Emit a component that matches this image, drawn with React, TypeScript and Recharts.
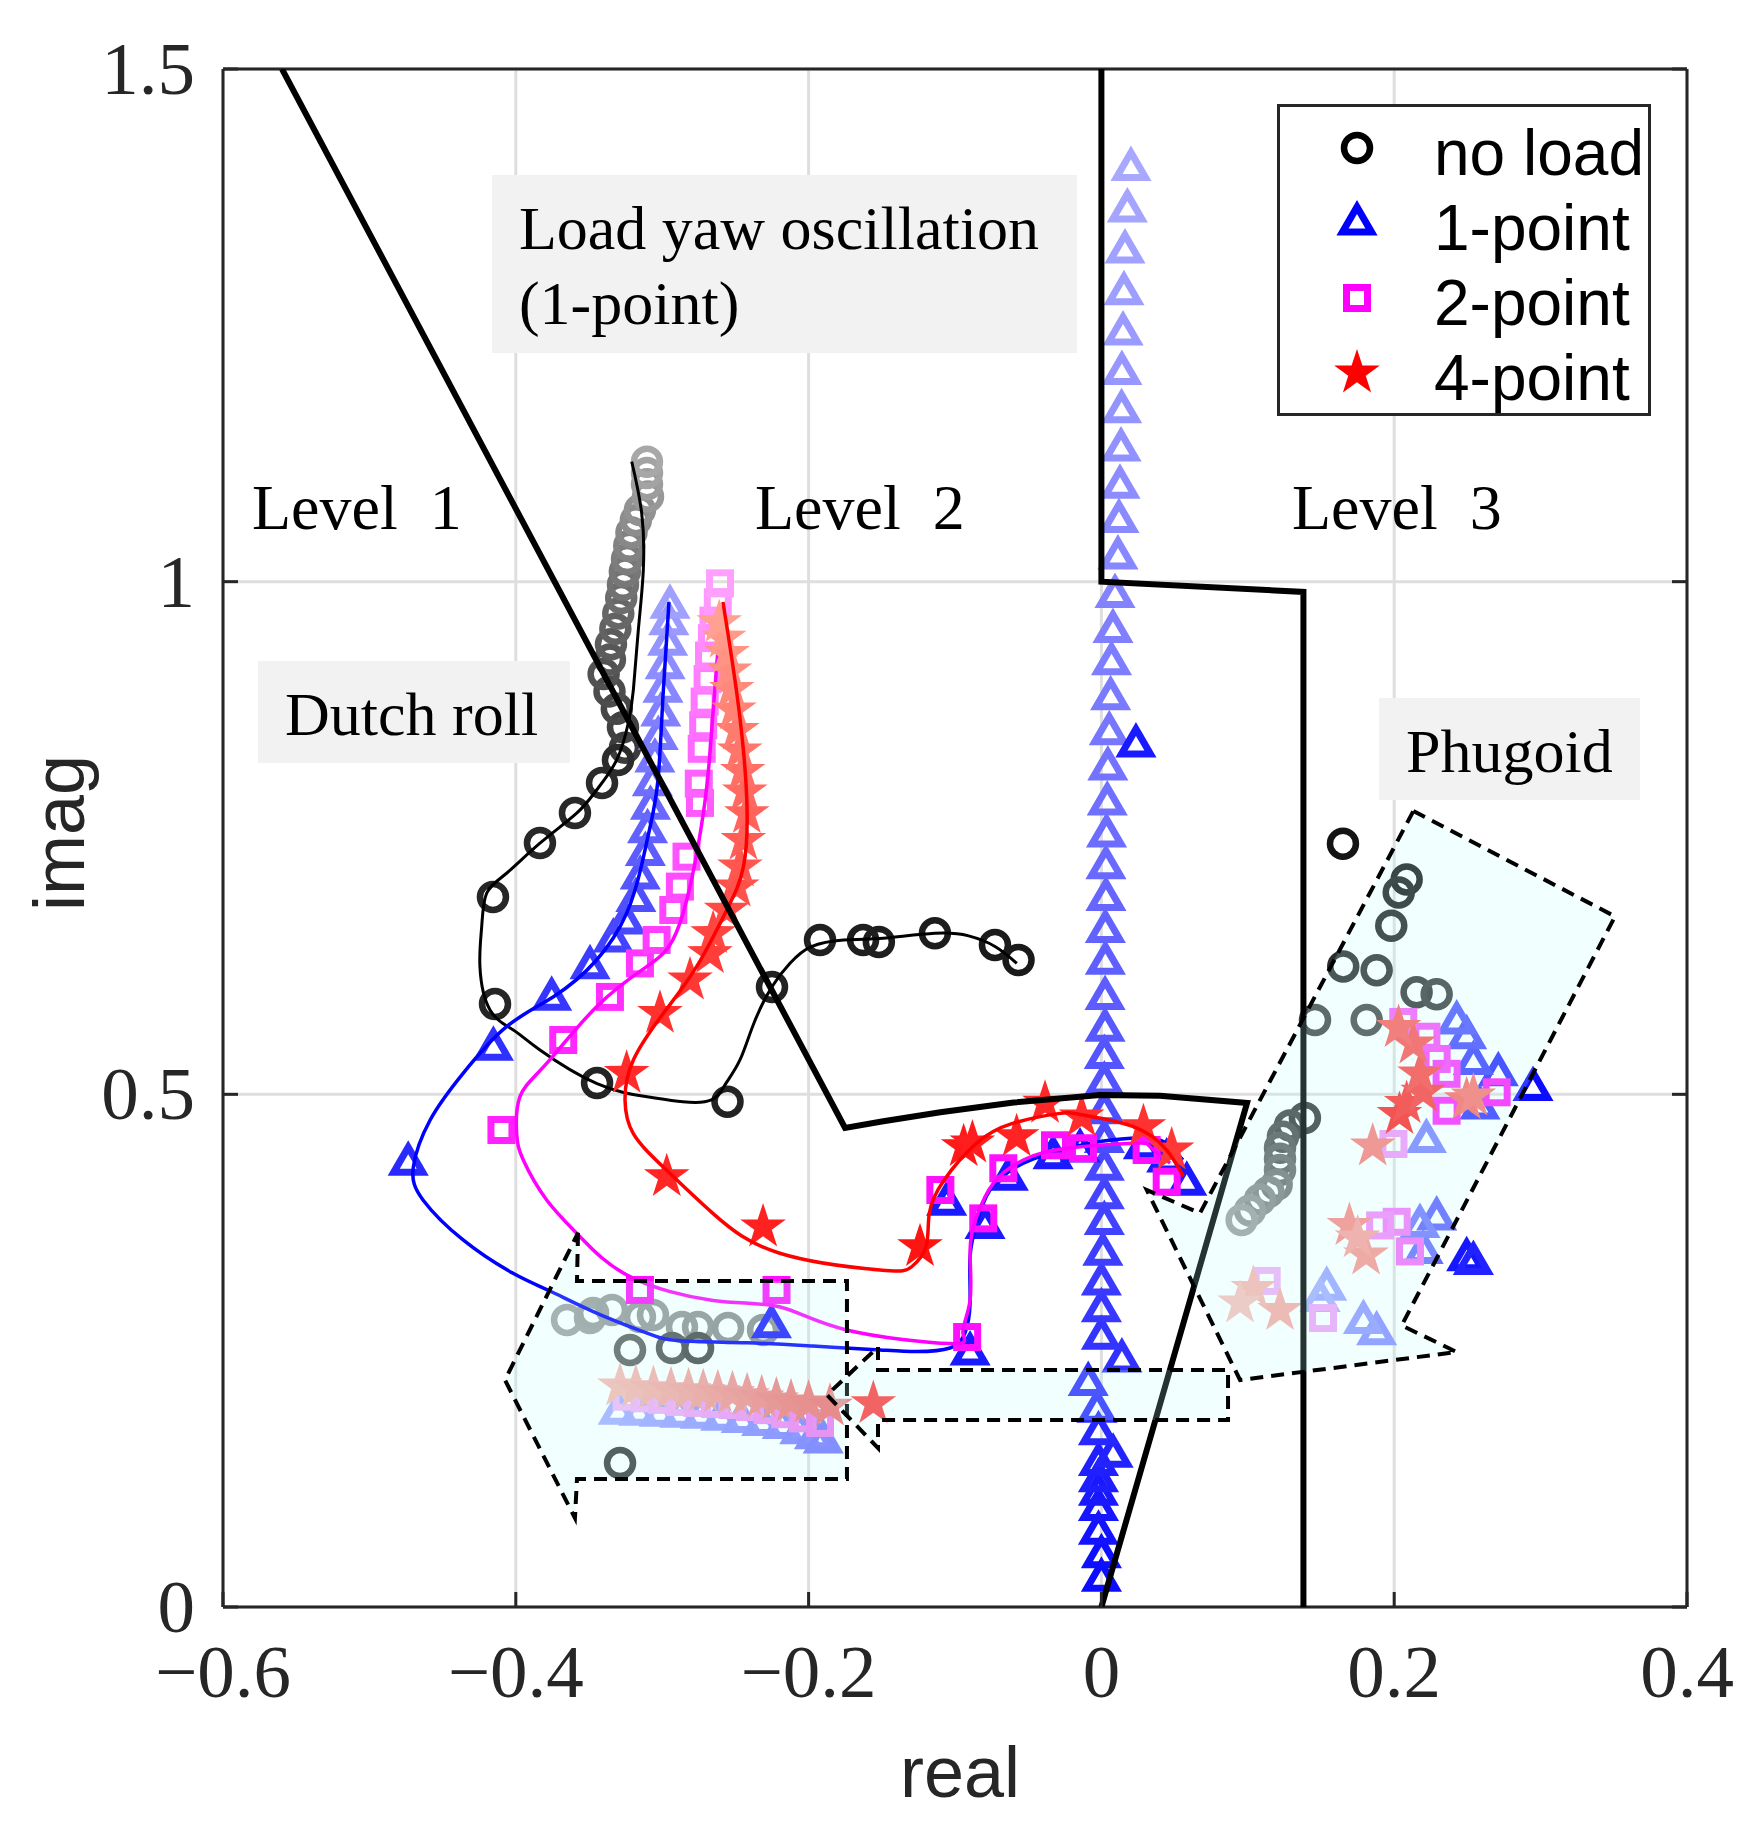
import React from "react";
import {
  ScatterChart,
  Scatter,
  XAxis,
  YAxis,
  CartesianGrid,
  ReferenceArea,
  ReferenceDot,
  Legend,
} from "recharts";

type Pt = [number, number];
type Kind = "circle" | "triangle" | "square" | "star";

const W = 1763;
const H = 1833;

// axes
const xTicks = [-0.6, -0.4, -0.2, 0, 0.2, 0.4];
const yTicks = [0, 0.5, 1, 1.5];
const seriesNames = ["no load", "1-point", "2-point", "4-point"];

// annotations (data coords)
const levelLabels = ["Level  1", "Level  2", "Level  3"];
const levelAnchors: Pt[] = [[-0.5802, 1.0514], [-0.2366, 1.0514], [0.1302, 1.0514]];
const noteLines = [["Load yaw oscillation", "(1-point)"], ["Dutch roll"], ["Phugoid"]];
const noteBoxes: [number, number, number, number][] = [
  [-0.4163, -0.0167, 1.2231, 1.3967],
  [-0.5761, -0.363, 0.8232, 0.9227],
  [0.1896, 0.3679, 0.7871, 0.8866],
];

// handling quality boundaries
const level12Boundary: Pt[] = [[-0.5597, 1.5], [-0.1751, 0.4672], [-0.15, 0.4735], [-0.11, 0.4825], [-0.06, 0.492], [-0.001, 0.4994], [0.04, 0.4985], [0.0995, 0.4916], [0, 0]];
const level23Boundary: Pt[] = [[0, 1.5], [0, 1.0], [0.138, 0.99], [0.138, 0]];

// dashed regions
const regionA: Pt[] = [[-0.3575, 0.3648], [-0.3582, 0.318], [-0.1738, 0.318], [-0.1738, 0.1248], [-0.3582, 0.1248], [-0.3596, 0.0868], [-0.4074, 0.2214]];
const regionB: Pt[] = [[-0.1526, 0.2536], [-0.1526, 0.2312], [0.0865, 0.2312], [0.0865, 0.1824], [-0.1526, 0.1824], [-0.1526, 0.1551], [-0.1874, 0.2068]];
const regionC: Pt[] = [[0.2131, 0.7763], [0.3508, 0.6735], [0.2051, 0.2746], [0.2427, 0.2487], [0.0947, 0.2214], [0.031, 0.4067], [0.0673, 0.384]];

// root-locus curves
const noLoadCurve: Pt[] = [[-0.0578, 0.6278], [-0.0724, 0.644], [-0.0907, 0.6545], [-0.1139, 0.657], [-0.1517, 0.652], [-0.1761, 0.6505], [-0.1981, 0.644], [-0.2127, 0.6278], [-0.225, 0.605], [-0.2373, 0.5696], [-0.2469, 0.5335], [-0.2566, 0.5104], [-0.2664, 0.4945], [-0.2859, 0.4928], [-0.3104, 0.4977], [-0.3445, 0.5104], [-0.3835, 0.5433], [-0.4017, 0.5628], [-0.4176, 0.5823], [-0.4245, 0.6245], [-0.4233, 0.6635], [-0.4199, 0.6961], [-0.4063, 0.7156], [-0.3835, 0.7449], [-0.3584, 0.7742], [-0.3448, 0.7968], [-0.3311, 0.8261], [-0.3232, 0.8619], [-0.3197, 0.8944], [-0.3163, 0.9529], [-0.3129, 1.0114], [-0.314, 1.0667], [-0.3208, 1.117]];
const onePointCurve: Pt[] = [[-0.2954, 0.98], [-0.2995, 0.8875], [-0.3029, 0.8066], [-0.3083, 0.7607], [-0.3143, 0.722], [-0.3243, 0.6766], [-0.3448, 0.631], [-0.3745, 0.595], [-0.4063, 0.566], [-0.436, 0.5205], [-0.4585, 0.475], [-0.47, 0.429], [-0.4634, 0.397], [-0.436, 0.358], [-0.4019, 0.3255], [-0.3767, 0.3082], [-0.3448, 0.2867], [-0.3106, 0.2672], [-0.2878, 0.2597], [-0.2422, 0.2577], [-0.197, 0.2545], [-0.1512, 0.2507], [-0.1262, 0.2491], [-0.1034, 0.2526], [-0.0932, 0.2672], [-0.0897, 0.2965], [-0.0897, 0.3416], [-0.0852, 0.3745], [-0.0761, 0.4067], [-0.0579, 0.4295], [-0.0351, 0.4425], [-0.001, 0.4539], [0.0332, 0.4571], [0.0469, 0.449], [0.0557, 0.436]];
const twoPointCurve: Pt[] = [[-0.2605, 0.9597], [-0.2662, 0.8554], [-0.2719, 0.7741], [-0.2879, 0.667], [-0.3106, 0.6245], [-0.3448, 0.5855], [-0.3789, 0.5302], [-0.3971, 0.498], [-0.3994, 0.4616], [-0.3949, 0.436], [-0.3789, 0.397], [-0.3561, 0.3612], [-0.322, 0.3222], [-0.2652, 0.299], [-0.2194, 0.2926], [-0.174, 0.2702], [-0.1034, 0.2569], [-0.0946, 0.2672], [-0.0897, 0.2994], [-0.0897, 0.3482], [-0.0852, 0.3807], [-0.0738, 0.4132], [-0.0533, 0.436], [-0.0237, 0.4474], [0.0219, 0.4523], [0.0332, 0.449], [0.0469, 0.4328]];
const fourPointCurve: Pt[] = [[-0.2585, 0.9802], [-0.248, 0.88], [-0.2422, 0.787], [-0.2445, 0.722], [-0.256, 0.6795], [-0.2765, 0.6245], [-0.2992, 0.579], [-0.3197, 0.5335], [-0.3254, 0.4945], [-0.3197, 0.4616], [-0.2992, 0.429], [-0.2652, 0.3836], [-0.2197, 0.345], [-0.1512, 0.3287], [-0.1298, 0.3316], [-0.1198, 0.3514], [-0.1176, 0.3836], [-0.1075, 0.4163], [-0.0856, 0.4519], [-0.0612, 0.4714], [-0.0294, 0.4812], [-0.0126, 0.4799], [0.0219, 0.4685], [0.0446, 0.4457], [0.056, 0.42]];

// no load (circles)
const noLoadPath: Pt[] = [[-0.0566, 0.631], [-0.0727, 0.6457], [-0.1137, 0.657], [-0.152, 0.6486], [-0.1628, 0.6505], [-0.1922, 0.6505], [-0.225, 0.6047], [-0.2554, 0.4928], [-0.3445, 0.511], [-0.4142, 0.588], [-0.4156, 0.6925], [-0.3835, 0.7451], [-0.3596, 0.7744], [-0.3411, 0.8037], [-0.3302, 0.826]];
const noLoadBand: Pt[] = [[-0.3254, 0.838], [-0.3268, 0.858], [-0.331, 0.876], [-0.336, 0.893], [-0.34, 0.91], [-0.3357, 0.924], [-0.335, 0.939], [-0.332, 0.954], [-0.33, 0.969], [-0.328, 0.984], [-0.3268, 0.997], [-0.3255, 1.01], [-0.324, 1.022], [-0.3225, 1.035], [-0.321, 1.048], [-0.318, 1.06], [-0.3152, 1.07], [-0.3097, 1.083], [-0.3104, 1.095], [-0.3104, 1.106], [-0.3104, 1.117]];
const noLoadLowLight: Pt[] = [[-0.365, 0.28], [-0.3493, 0.2819], [-0.3472, 0.2867], [-0.3343, 0.2897], [-0.3152, 0.2828], [-0.3063, 0.2848], [-0.2865, 0.2731], [-0.2755, 0.2731], [-0.255, 0.2721], [-0.2311, 0.2702]];
const noLoadLowDark: Pt[] = [[-0.322, 0.2507], [-0.2933, 0.2526], [-0.2755, 0.2526], [-0.3288, 0.1404]];
const noLoadPhugoidUpper: Pt[] = [[0.165, 0.7445], [0.2085, 0.7096], [0.2031, 0.6969], [0.198, 0.6644], [0.1652, 0.6247], [0.188, 0.6211], [0.2153, 0.5995], [0.229, 0.5977], [0.1459, 0.5725], [0.1812, 0.5725]];
const noLoadPhugoidLower: Pt[] = [[0.139, 0.477], [0.1288, 0.4695], [0.124, 0.4586], [0.122, 0.4479], [0.122, 0.4371], [0.122, 0.4262], [0.1197, 0.4118], [0.1141, 0.4047], [0.1083, 0.3974], [0.1015, 0.3866], [0.0958, 0.3775]];

// 1-point (triangles)
const onePointPath: Pt[] = [[-0.4735, 0.4327], [-0.4153, 0.545], [-0.3755, 0.5937], [-0.3493, 0.6245], [-0.3334, 0.6505], [-0.325, 0.668], [-0.318, 0.69], [-0.315, 0.712], [-0.3115, 0.735], [-0.31, 0.757], [-0.308, 0.78], [-0.3067, 0.803], [-0.305, 0.826], [-0.3027, 0.848], [-0.301, 0.871], [-0.2995, 0.894], [-0.298, 0.917], [-0.2963, 0.94], [-0.2955, 0.96], [-0.2947, 0.976]];
const onePointLow: Pt[] = [[-0.2254, 0.2744], [-0.0897, 0.2477], [-0.1057, 0.3937], [-0.0795, 0.371], [-0.0636, 0.4181], [-0.033, 0.4392], [-0.0146, 0.4457], [0.0287, 0.449], [0.0446, 0.436], [0.0583, 0.4132], [0.0236, 0.8408]];
const onePointColumn: Pt[] = [[0, 0.027], [0, 0.05], [-0.002, 0.073], [-0.002, 0.096], [-0.002, 0.111], [-0.002, 0.124], [-0.002, 0.14], [0.008, 0.148], [-0.002, 0.17], [-0.003, 0.192], [-0.009, 0.218], [0.014, 0.241], [0, 0.263], [0, 0.29], [0, 0.316], [0.001, 0.345], [0.002, 0.375], [0.002, 0.4], [0.002, 0.428], [0.002, 0.455], [0.002, 0.483], [0.002, 0.511], [0.002, 0.537], [0.0025, 0.5634], [0.0025, 0.5945], [0.0027, 0.6287], [0.0027, 0.6598], [0.0031, 0.6909], [0.0031, 0.722], [0.0035, 0.753], [0.004, 0.7841], [0.0044, 0.8183], [0.0054, 0.8526], [0.0063, 0.8868], [0.0069, 0.921], [0.0079, 0.9523], [0.0093, 0.9865], [0.0113, 1.024], [0.012, 1.0597], [0.0127, 1.093], [0.0134, 1.1294], [0.0138, 1.1667], [0.014, 1.204], [0.0148, 1.2426], [0.0154, 1.2817], [0.0161, 1.3225], [0.0177, 1.3626], [0.0202, 1.403]];
const onePointLowLeft: Pt[] = [[-0.33, 0.19], [-0.316, 0.189], [-0.302, 0.188], [-0.288, 0.187], [-0.274, 0.186], [-0.26, 0.184], [-0.246, 0.182], [-0.232, 0.179], [-0.218, 0.176], [-0.206, 0.171], [-0.196, 0.166], [-0.19, 0.162]];
const onePointPhugoid: Pt[] = [[0.2948, 0.5056], [0.2495, 0.3397], [0.2541, 0.336], [0.2711, 0.52], [0.2586, 0.4876], [0.2541, 0.531], [0.2495, 0.5562], [0.2427, 0.5706], [0.229, 0.3794], [0.2198, 0.3468], [0.2176, 0.3721], [0.222, 0.455], [0.188, 0.2675], [0.179, 0.2784], [0.1539, 0.3108], [0.1494, 0.3]];

// 2-point (squares)
const twoPointPath: Pt[] = [[-0.4098, 0.4652], [-0.3676, 0.553], [-0.3357, 0.595], [-0.3152, 0.6277], [-0.3038, 0.6505], [-0.2924, 0.6798], [-0.2879, 0.7026], [-0.2834, 0.7318], [-0.2742, 0.7842], [-0.275, 0.803], [-0.273, 0.837], [-0.272, 0.86], [-0.271, 0.883], [-0.269, 0.905], [-0.268, 0.928], [-0.266, 0.945], [-0.265, 0.962], [-0.262, 0.98], [-0.2605, 0.9984]];
const twoPointLow: Pt[] = [[-0.3152, 0.3092], [-0.2219, 0.3092], [-0.0917, 0.2633], [-0.11, 0.4067], [-0.0807, 0.379], [-0.067, 0.4279], [-0.0317, 0.4503], [-0.0126, 0.4474], [0.0309, 0.4457], [0.0446, 0.4148]];
const twoPointLowLeft: Pt[] = [[-0.3243, 0.2051], [-0.312, 0.2035], [-0.3, 0.202], [-0.288, 0.2], [-0.276, 0.199], [-0.264, 0.198], [-0.252, 0.197], [-0.24, 0.195], [-0.228, 0.192], [-0.216, 0.188], [-0.204, 0.184], [-0.1922, 0.1795]];
const twoPointPhugoid: Pt[] = [[0.27, 0.502], [0.2358, 0.484], [0.2358, 0.52], [0.229, 0.5345], [0.222, 0.5562], [0.2062, 0.5706], [0.2108, 0.3468], [0.2017, 0.3757], [0.1904, 0.3721], [0.1995, 0.4516], [0.1514, 0.2818], [0.1129, 0.318]];

// 4-point (stars)
const fourPointPath: Pt[] = [[-0.2311, 0.3706], [-0.2969, 0.4197], [-0.3243, 0.5205], [-0.3015, 0.579], [-0.281, 0.6115], [-0.2674, 0.6373], [-0.2652, 0.6568], [-0.256, 0.6795], [-0.2491, 0.7022], [-0.2469, 0.7217], [-0.2445, 0.7477], [-0.2422, 0.7737], [-0.2436, 0.795], [-0.245, 0.815], [-0.247, 0.835], [-0.249, 0.855], [-0.251, 0.875], [-0.2525, 0.895], [-0.254, 0.913], [-0.2556, 0.93], [-0.258, 0.945], [-0.261, 0.96]];
const fourPointLow: Pt[] = [[-0.1239, 0.3514], [-0.0941, 0.449], [-0.0881, 0.4525], [-0.0579, 0.4587], [-0.0385, 0.4913], [-0.0135, 0.478], [0.0287, 0.4685], [0.048, 0.4457], [-0.1558, 0.1984]];
const fourPointLowLeft: Pt[] = [[-0.3288, 0.2155], [-0.318, 0.214], [-0.306, 0.213], [-0.294, 0.212], [-0.282, 0.211], [-0.272, 0.21], [-0.262, 0.209], [-0.252, 0.208], [-0.242, 0.206], [-0.232, 0.204], [-0.222, 0.202], [-0.212, 0.2], [-0.2, 0.199], [-0.1854, 0.1959]];
const fourPointPhugoid: Pt[] = [[0.2036, 0.4803], [0.2085, 0.4911], [0.2198, 0.502], [0.2176, 0.52], [0.2131, 0.5491], [0.203, 0.5652], [0.2495, 0.4948], [0.2541, 0.4984], [0.1853, 0.4496], [0.1694, 0.3721], [0.1808, 0.3433], [0.175, 0.36], [0.122, 0.2892], [0.1038, 0.3108], [0.0947, 0.2965]];

type Group = { kind: Kind; pts: Pt[]; from: string; to: string };
type Layer = { groups: Group[]; curve: Pt[]; color: string; width: number };

const layers: Layer[] = [
  {
    groups: [
      { kind: "circle", pts: noLoadLowLight, from: "#a0a0a0", to: "#8c8c8c" },
      { kind: "circle", pts: noLoadLowDark, from: "#5e5e5e", to: "#3a3a3a" },
      { kind: "circle", pts: noLoadPhugoidUpper, from: "#141414", to: "#4c4c4c" },
      { kind: "circle", pts: noLoadPhugoidLower, from: "#3a3a3a", to: "#9e9e9e" },
      { kind: "circle", pts: noLoadBand, from: "#3c3c3c", to: "#a8a8a8" },
      { kind: "circle", pts: noLoadPath, from: "#1a1a1a", to: "#2c2c2c" },
    ],
    curve: noLoadCurve,
    color: "#000000",
    width: 3,
  },
  {
    groups: [
      { kind: "triangle", pts: onePointLowLeft, from: "#a4acff", to: "#7474ff" },
      { kind: "triangle", pts: onePointPhugoid, from: "#0c0cff", to: "#a6aeff" },
      { kind: "triangle", pts: onePointColumn, from: "#0c0cff", to: "#a8a8ff" },
      { kind: "triangle", pts: onePointLow, from: "#1a1aff", to: "#1a1aff" },
      { kind: "triangle", pts: onePointPath, from: "#2a2aff", to: "#a0a0ff" },
    ],
    curve: onePointCurve,
    color: "#0000ff",
    width: 3.5,
  },
  {
    groups: [
      { kind: "square", pts: twoPointLowLeft, from: "#f0b4f8", to: "#f07af0" },
      { kind: "square", pts: twoPointPhugoid, from: "#ff1cff", to: "#f0b0f8" },
      { kind: "square", pts: twoPointLow, from: "#ff10ff", to: "#ff10ff" },
      { kind: "square", pts: twoPointPath, from: "#ff22ff", to: "#ffa0ff" },
    ],
    curve: twoPointCurve,
    color: "#ff00ff",
    width: 3.5,
  },
  {
    groups: [
      { kind: "star", pts: fourPointLowLeft, from: "#f6b8b0", to: "#f07070" },
      { kind: "star", pts: fourPointPhugoid, from: "#ff2a2a", to: "#f8c0b8" },
      { kind: "star", pts: fourPointLow, from: "#ff1414", to: "#ff3c3c" },
      { kind: "star", pts: fourPointPath, from: "#ff2020", to: "#ffa090" },
    ],
    curve: fourPointCurve,
    color: "#ff0000",
    width: 3.5,
  },
];

const toRows = (pts: Pt[]) => pts.map(([x, y], i) => ({ x, y, i }));

function mix(a: string, b: string, t: number) {
  const pa = parseInt(a.slice(1), 16);
  const pb = parseInt(b.slice(1), 16);
  const ch = (s: number) => Math.round(((pa >> s) & 255) * (1 - t) + ((pb >> s) & 255) * t);
  return `rgb(${ch(16)},${ch(8)},${ch(0)})`;
}

function Marker({ kind, cx, cy, color }: { kind: Kind; cx: number; cy: number; color: string }) {
  if (kind === "circle") return <circle cx={cx} cy={cy} r={13} fill="none" stroke={color} strokeWidth={6.5} />;
  if (kind === "triangle")
    return (
      <path
        d={`M${cx},${cy - 16}L${cx + 14.5},${cy + 9}L${cx - 14.5},${cy + 9}Z`}
        fill="none"
        stroke={color}
        strokeWidth={7}
        strokeLinejoin="miter"
      />
    );
  if (kind === "square")
    return <rect x={cx - 10.5} y={cy - 10.5} width={21} height={21} fill="none" stroke={color} strokeWidth={7} />;
  const pts: string[] = [];
  for (let k = 0; k < 10; k++) {
    const r = k % 2 ? 9.2 : 24;
    const a = -Math.PI / 2 + (k * Math.PI) / 5;
    pts.push(`${cx + r * Math.cos(a)},${cy + r * Math.sin(a)}`);
  }
  return <polygon points={pts.join(" ")} fill={color} />;
}

const serif = "'Liberation Serif', 'Times New Roman', serif";
const sans = "'Liberation Sans', Arial, sans-serif";
const frame = "#262626";

const fmtX = (v: number) => (v < 0 ? "\u2212" + String(Math.abs(v)) : String(v));

function BottomTick(p: any) {
  return (
    <g>
      <line x1={p.x} x2={p.x} y1={p.y} y2={p.y - 15} stroke={frame} strokeWidth={3} />
      <text x={p.x} y={p.y + 90} textAnchor="middle" fontFamily={serif} fontSize={75} fill={frame}>
        {fmtX(p.payload.value)}
      </text>
    </g>
  );
}
function LeftTick(p: any) {
  return (
    <g>
      <line x1={p.x} x2={p.x + 15} y1={p.y} y2={p.y} stroke={frame} strokeWidth={3} />
      <text x={p.x - 28} y={p.y + 25} textAnchor="end" fontFamily={serif} fontSize={75} fill={frame}>
        {String(p.payload.value)}
      </text>
    </g>
  );
}
function TopTick(p: any) {
  return <line x1={p.x} x2={p.x} y1={p.y} y2={p.y + 15} stroke={frame} strokeWidth={3} />;
}
function RightTick(p: any) {
  return <line x1={p.x} x2={p.x - 15} y1={p.y} y2={p.y} stroke={frame} strokeWidth={3} />;
}

const legendKinds: Kind[] = ["circle", "triangle", "square", "star"];
const legendColors = ["#000000", "#0000ff", "#ff00ff", "#ff0000"];

function LegendBox() {
  return (
    <div
      style={{
        width: 374,
        height: 312,
        boxSizing: "border-box",
        border: `3px solid ${frame}`,
        background: "#ffffff",
        overflow: "hidden",
      }}
    >
      <svg width={368} height={306} style={{ display: "block" }}>
        {seriesNames.map((name, k) => {
          const base = 68 + 75 * k;
          return (
            <g key={name}>
              <Marker kind={legendKinds[k]} cx={77} cy={base - 27} color={legendColors[k]} />
              <text x={154} y={base} fontFamily={sans} fontSize={64} fill="#000">
                {name}
              </text>
            </g>
          );
        })}
      </svg>
    </div>
  );
}

const hidden = () => <g />;

export default function App() {
  const scatters: React.ReactElement[] = [];
  layers.forEach((layer, li) => {
    layer.groups.forEach((g, gi) => {
      const n = g.pts.length;
      scatters.push(
        <Scatter
          key={`m-${li}-${gi}`}
          data={toRows(g.pts)}
          isAnimationActive={false}
          legendType="none"
          shape={(p: any) => (
            <Marker
              kind={g.kind}
              cx={p.cx}
              cy={p.cy}
              color={mix(g.from, g.to, n > 1 ? p.payload.i / (n - 1) : 0)}
            />
          )}
        />
      );
    });
    scatters.push(
      <Scatter
        key={`c-${li}`}
        data={toRows(layer.curve)}
        isAnimationActive={false}
        legendType="none"
        shape={hidden}
        line={{ stroke: layer.color, strokeWidth: layer.width }}
        lineJointType="natural"
      />
    );
  });

  return (
    <div style={{ position: "absolute", left: 0, top: 0, width: W, height: H, background: "#ffffff" }}>
      <ScatterChart width={W} height={H} margin={{ top: 68, right: 75, bottom: 225, left: 222 }}>
        <CartesianGrid stroke="#dedede" strokeWidth={3} />
        {scatters}
        {[level12Boundary, level23Boundary].map((b, k) => (
          <Scatter
            key={`b-${k}`}
            data={toRows(b)}
            isAnimationActive={false}
            legendType="none"
            shape={hidden}
            line={{ stroke: "#000000", strokeWidth: 6 }}
            lineJointType="linear"
          />
        ))}
        {[regionA, regionB, regionC].map((r, k) => (
          <Scatter
            key={`r-${k}`}
            data={toRows(r)}
            isAnimationActive={false}
            legendType="none"
            shape={hidden}
            line={{
              stroke: "#000000",
              strokeWidth: 4,
              strokeDasharray: "13 8",
              fill: "#c0ffff",
              fillOpacity: 0.2,
            }}
            lineJointType="linearClosed"
          />
        ))}
        {noteBoxes.map(([x1, x2, y1, y2], k) => (
          <ReferenceArea
            key={`n-${k}`}
            x1={x1}
            x2={x2}
            y1={y1}
            y2={y2}
            fill="#f2f2f2"
            fillOpacity={1}
            stroke="none"
            ifOverflow="visible"
            label={(p: any) => {
              const vb = p.viewBox;
              return (
                <text x={vb.x + 27} y={vb.y + 74} fontFamily={serif} fontSize={62} fill="#000">
                  {noteLines[k].map((l, j) => (
                    <tspan key={j} x={vb.x + 27} dy={j ? 75 : 0}>
                      {l}
                    </tspan>
                  ))}
                </text>
              );
            }}
          />
        ))}
        {levelAnchors.map(([x, y], k) => (
          <ReferenceDot
            key={`l-${k}`}
            x={x}
            y={y}
            r={0}
            fill="none"
            stroke="none"
            ifOverflow="visible"
            label={(p: any) => {
              const vb = p.viewBox;
              return (
                <text
                  x={vb.x + (vb.width || 0) / 2}
                  y={vb.y + (vb.height || 0) / 2}
                  fontFamily={serif}
                  fontSize={64}
                  fill="#000"
                  style={{ whiteSpace: "pre" }}
                >
                  {levelLabels[k]}
                </text>
              );
            }}
          />
        ))}
        <XAxis
          type="number"
          dataKey="x"
          domain={[-0.6, 0.4]}
          ticks={xTicks}
          interval={0}
          allowDataOverflow
          height={1}
          tickSize={0}
          tickMargin={0}
          tickLine={false}
          tick={BottomTick}
          axisLine={{ stroke: frame, strokeWidth: 3 }}
          label={(p: any) => {
            const vb = p.viewBox;
            return (
              <text x={vb.x + vb.width / 2 + 5} y={vb.y + 190} textAnchor="middle" fontFamily={sans} fontSize={72} fill={frame}>
                real
              </text>
            );
          }}
        />
        <YAxis
          type="number"
          dataKey="y"
          domain={[0, 1.5]}
          ticks={yTicks}
          interval={0}
          allowDataOverflow
          width={1}
          tickSize={0}
          tickMargin={0}
          tickLine={false}
          tick={LeftTick}
          axisLine={{ stroke: frame, strokeWidth: 3 }}
          label={(p: any) => {
            const vb = p.viewBox;
            const cx = vb.x + vb.width - 139;
            const cy = vb.y + vb.height / 2 - 5;
            return (
              <text
                x={cx}
                y={cy}
                transform={`rotate(-90, ${cx}, ${cy})`}
                textAnchor="middle"
                fontFamily={sans}
                fontSize={72}
                fill={frame}
              >
                imag
              </text>
            );
          }}
        />
        <XAxis
          xAxisId="top"
          orientation="top"
          type="number"
          domain={[-0.6, 0.4]}
          ticks={xTicks}
          interval={0}
          allowDataOverflow
          height={1}
          tickSize={0}
          tickMargin={0}
          tickLine={false}
          tick={TopTick}
          axisLine={{ stroke: frame, strokeWidth: 3 }}
        />
        <YAxis
          yAxisId="right"
          orientation="right"
          type="number"
          domain={[0, 1.5]}
          ticks={yTicks}
          interval={0}
          allowDataOverflow
          width={1}
          tickSize={0}
          tickMargin={0}
          tickLine={false}
          tick={RightTick}
          axisLine={{ stroke: frame, strokeWidth: 3 }}
        />
        <Legend
          layout="horizontal"
          verticalAlign="middle"
          align="center"
          width={374}
          height={312}
          wrapperStyle={{ left: 1277, top: 104, width: 374, height: 312 }}
          content={() => <LegendBox />}
        />
      </ScatterChart>
    </div>
  );
}
